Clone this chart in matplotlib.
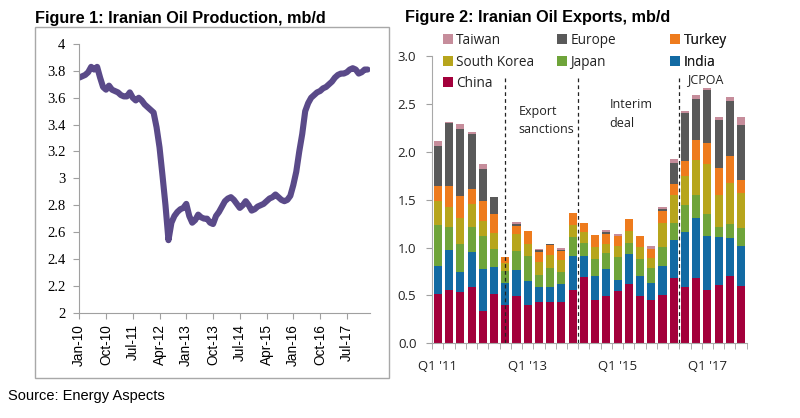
import matplotlib
matplotlib.use("Agg")
import matplotlib.pyplot as plt
import numpy as np
from matplotlib.patches import Rectangle, Patch

# Figure 1: Iranian oil production, monthly Jan-10 .. Feb-18, mb/d
production = [
    3.75, 3.76, 3.77, 3.79, 3.83, 3.81, 3.83, 3.75, 3.68, 3.66,
    3.69, 3.66, 3.65, 3.64, 3.62, 3.61, 3.61, 3.64, 3.60, 3.58,
    3.60, 3.58, 3.55, 3.53, 3.51, 3.49, 3.38, 3.23, 3.02, 2.80,
    2.54, 2.67, 2.72, 2.75, 2.77, 2.78, 2.81, 2.72, 2.67, 2.69,
    2.73, 2.71, 2.70, 2.70, 2.67, 2.66, 2.72, 2.75, 2.79, 2.83,
    2.85, 2.86, 2.84, 2.81, 2.78, 2.80, 2.83, 2.80, 2.76, 2.77,
    2.79, 2.80, 2.81, 2.83, 2.85, 2.86, 2.88, 2.86, 2.84, 2.83,
    2.84, 2.87, 2.95, 3.05, 3.20, 3.33, 3.50, 3.56, 3.60, 3.62,
    3.64, 3.65, 3.67, 3.68, 3.70, 3.72, 3.75, 3.77, 3.78, 3.78,
    3.79, 3.81, 3.82, 3.81, 3.78, 3.79, 3.81, 3.81,
]
prod_tick_labels = ["Jan-10", "Oct-10", "Jul-11", "Apr-12", "Jan-13", "Oct-13",
                    "Jul-14", "Apr-15", "Jan-16", "Oct-16", "Jul-17"]
prod_tick_months = [0, 9, 18, 27, 36, 45, 54, 63, 72, 81, 90]
prod_yticks = [2, 2.2, 2.4, 2.6, 2.8, 3, 3.2, 3.4, 3.6, 3.8, 4]

# Figure 2: Iranian oil exports by destination, quarterly Q1 '11 .. Q4 '17, mb/d
china = [0.52, 0.56, 0.54, 0.59, 0.34, 0.52, 0.40, 0.49, 0.40, 0.43, 0.43, 0.43, 0.56, 0.69,
         0.45, 0.49, 0.55, 0.62, 0.49, 0.45, 0.50, 0.68, 0.59, 0.68, 0.56, 0.61, 0.70, 0.60]
india = [0.29, 0.42, 0.20, 0.36, 0.44, 0.28, 0.23, 0.28, 0.25, 0.16, 0.16, 0.19, 0.35, 0.22,
         0.25, 0.29, 0.11, 0.31, 0.21, 0.18, 0.31, 0.40, 0.57, 0.63, 0.56, 0.50, 0.40, 0.42]
japan = [0.43, 0.23, 0.30, 0.27, 0.34, 0.19, 0.13, 0.19, 0.26, 0.12, 0.20, 0.12, 0.20, 0.14,
         0.18, 0.16, 0.24, 0.12, 0.18, 0.16, 0.20, 0.18, 0.28, 0.24, 0.23, 0.11, 0.15, 0.18]
south_korea = [0.25, 0.21, 0.27, 0.24, 0.16, 0.16, 0.08, 0.18, 0.13, 0.14, 0.13, 0.13, 0.13, 0.11,
               0.13, 0.10, 0.12, 0.12, 0.13, 0.10, 0.25, 0.29, 0.31, 0.37, 0.52, 0.33, 0.43, 0.37]
turkey = [0.15, 0.22, 0.23, 0.15, 0.21, 0.20, 0.06, 0.09, 0.13, 0.10, 0.11, 0.09, 0.12, 0.10,
          0.12, 0.10, 0.10, 0.13, 0.11, 0.10, 0.12, 0.11, 0.16, 0.20, 0.22, 0.28, 0.28, 0.14]
europe = [0.42, 0.66, 0.70, 0.58, 0.33, 0.18, 0.00, 0.02, 0.00, 0.02, 0.01, 0.01, 0.00, 0.00,
          0.00, 0.02, 0.00, 0.00, 0.00, 0.00, 0.02, 0.22, 0.50, 0.43, 0.56, 0.50, 0.57, 0.57]
taiwan = [0.05, 0.01, 0.05, 0.02, 0.05, 0.00, 0.00, 0.02, 0.00, 0.02, 0.00, 0.03, 0.00, 0.00,
          0.00, 0.02, 0.02, 0.00, 0.00, 0.03, 0.02, 0.05, 0.02, 0.04, 0.02, 0.03, 0.04, 0.08]
export_tick_pos = [0, 8, 16, 24]
export_tick_labels = ["Q1 '11", "Q1 '13", "Q1 '15", "Q1 '17"]
export_yticks = [0.0, 0.5, 1.0, 1.5, 2.0, 2.5, 3.0]
event_pos = [6.0, 12.5, 21.45]

colors = {
    "China": "#A3003B",
    "India": "#126AA3",
    "Japan": "#6FA43A",
    "South Korea": "#B7A51C",
    "Turkey": "#EE7B1D",
    "Europe": "#595959",
    "Taiwan": "#C68D9B",
}

fig = plt.figure(figsize=(8, 4.18), dpi=100)

# ---- left panel ----
fig.patches.append(Rectangle((0.0438, 0.0957), 0.4425, 0.8404, transform=fig.transFigure,
                             fill=False, edgecolor="#A8A8A8", lw=1.0))
fig.text(0.0438, 0.9457, "Figure 1: Iranian Oil Production, mb/d", fontsize=11.7,
         fontweight="bold", family="Liberation Sans", va="baseline")
fig.text(0.01, 0.0431, "Source: Energy Aspects", fontsize=10.5, family="Liberation Sans",
         va="baseline")

ax1 = fig.add_axes([0.0991, 0.2519, 0.3634, 0.6428])
ax1.plot(np.arange(len(production)), production, color="#5A4A89", lw=4.4,
         solid_joinstyle="round", solid_capstyle="round")
ax1.set_xlim(0, 97.8)
ax1.set_ylim(2, 4)
ax1.set_yticks(prod_yticks)
ax1.set_yticklabels(["%g" % v for v in prod_yticks], family="Liberation Serif", fontsize=10.5)
ax1.set_xticks(prod_tick_months)
ax1.set_xticklabels(prod_tick_labels, rotation=90, family="Liberation Sans", fontsize=9.8)
ax1.tick_params(axis="y", length=4, color="#A0A0A0", pad=6)
ax1.tick_params(axis="x", length=4, color="#A0A0A0", pad=4)
for s in ["top", "right"]:
    ax1.spines[s].set_visible(False)
for s in ["left", "bottom"]:
    ax1.spines[s].set_color("#A0A0A0")

# ---- right panel ----
fig.text(0.506, 0.948, "Figure 2: Iranian Oil Exports, mb/d", fontsize=11.7,
         fontweight="bold", family="Liberation Sans", va="baseline")

ax2 = fig.add_axes([0.5396, 0.1787, 0.3938, 0.6869])
x = np.arange(len(china))
series = [("China", china), ("India", india), ("Japan", japan), ("South Korea", south_korea),
          ("Turkey", turkey), ("Europe", europe), ("Taiwan", taiwan)]
bottom = np.zeros(len(x))
for name, vals in series:
    ax2.bar(x, vals, width=0.72, bottom=bottom, color=colors[name], linewidth=0)
    bottom += np.array(vals)

for xp in event_pos:
    ax2.axvline(xp, ymin=0, ymax=2.8 / 3.0, color="#222222", lw=0.9, ls=(0, (3, 2.5)))

txt_kw = dict(family="Open Sans", fontsize=9, color="#222222", va="top", linespacing=1.55)
ax2.text(7.2, 2.49, "Export\nsanctions", **txt_kw)
ax2.text(15.3, 2.56, "Interim\ndeal", **txt_kw)
ax2.text(22.2, 2.82, "JCPOA", **txt_kw)

ax2.set_xlim(-0.55, 27.45)
ax2.set_ylim(0, 3.0)
ax2.set_yticks(export_yticks)
ax2.set_yticklabels(["%.1f" % v for v in export_yticks], family="Open Sans", fontsize=9.5,
                    color="#222222")
ax2.set_xticks(export_tick_pos)
ax2.set_xticklabels(export_tick_labels, family="Open Sans", fontsize=9.5, color="#222222")
ax2.set_xticks(np.arange(-0.5, 27.6, 1.0), minor=True)
ax2.tick_params(axis="x", which="major", length=0, pad=12)
ax2.tick_params(axis="x", which="minor", length=4, color="#A0A0A0")
ax2.tick_params(axis="y", length=4, color="#A0A0A0", pad=7)
for s in ["top", "right"]:
    ax2.spines[s].set_visible(False)
for s in ["left", "bottom"]:
    ax2.spines[s].set_color("#A8A8A8")

# legend: three columns laid out row by row
leg_cols = [["Taiwan", "South Korea", "China"], ["Europe", "Japan"], ["Turkey", "India"]]
leg_x = [0.035, 0.397, 0.757]
for names, lx in zip(leg_cols, leg_x):
    handles = [Patch(facecolor=colors[n], edgecolor="none") for n in names]
    leg = ax2.legend(handles, names, loc="upper left", bbox_to_anchor=(lx, 1.08),
                     frameon=False, borderpad=0, borderaxespad=0, handlelength=0.75,
                     handleheight=0.75, handletextpad=0.25, labelspacing=0.47,
                     prop={"family": "Open Sans", "size": 9.8})
    for t in leg.get_texts():
        t.set_color("#222222")
    ax2.add_artist(leg)

fig.savefig("out.png", dpi=100)
